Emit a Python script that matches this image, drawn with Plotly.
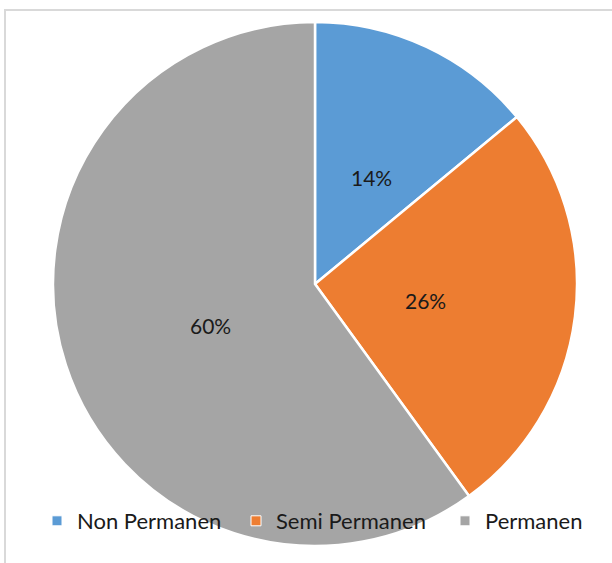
import math
import plotly.graph_objects as go

categories = ["Non Permanen", "Semi Permanen", "Permanen"]
values = [14, 26, 60]
colors = ["#5B9BD5", "#ED7D31", "#A5A5A5"]

W, H = 612, 563
T, B = 22, 17
ph = H - T - B          # 524, the pie diameter
pw = W                  # plot area spans full width
CX = 315                # pie center x in px
x0d, x1d = (CX - ph / 2) / pw, (CX + ph / 2) / pw

fig = go.Figure()
fig.add_trace(go.Pie(
    labels=categories,
    values=values,
    sort=False,
    direction="clockwise",
    rotation=0,
    domain=dict(x=[x0d, x1d], y=[0, 1]),
    marker=dict(colors=colors, line=dict(color="white", width=2.5)),
    textinfo="none",
    hoverinfo="label+percent",
    showlegend=False,
))

# legend entries (one legend per category so each can be placed like the original)
legend_text_x = [73, 272, 481]   # left edge of each legend text, px
legend_names = ["legend", "legend2", "legend3"]
legend_layout = {}
for cat, col, lx, ln in zip(categories, colors, legend_text_x, legend_names):
    fig.add_trace(go.Scatter(
        x=[None], y=[None], mode="markers", name=cat,
        marker=dict(symbol="square", size=10, color=col,
                    line=dict(color="white", width=1)),
        legend=ln, showlegend=True, hoverinfo="skip",
    ))
    legend_layout[ln] = dict(
        x=(lx - 36) / pw, xanchor="left",
        y=(H - B - 521) / ph, yanchor="middle",
        bgcolor="rgba(0,0,0,0)",
        font=dict(family="Lato", size=22, color="#1a1a1a"),
        itemwidth=30,
        orientation="h",
    )

# data labels placed at about half radius along each slice's mid-angle
total = sum(values)
annotations = []
cum = 0
for v in values:
    mid = (cum + v / 2) / total * 2 * math.pi
    cum += v
    f = 0.51
    annotations.append(dict(
        x=(CX + f * (ph / 2) * math.sin(mid)) / pw,
        y=0.5 + f * 0.5 * math.cos(mid),
        xref="paper", yref="paper",
        text=f"{round(v / total * 100)}%",
        showarrow=False,
        font=dict(family="Lato", size=21, color="#1a1a1a"),
    ))

fig.update_layout(
    width=W, height=H,
    margin=dict(l=0, r=0, t=T, b=B),
    paper_bgcolor="white",
    plot_bgcolor="rgba(0,0,0,0)",
    font=dict(family="Lato", size=22, color="#1a1a1a"),
    xaxis=dict(visible=False),
    yaxis=dict(visible=False),
    annotations=annotations,
    shapes=[dict(
        type="rect", xref="paper", yref="paper",
        x0=5 / pw, x1=1.3,
        y0=-0.2, y1=(H - B - 10) / ph,
        line=dict(color="#d9d9d9", width=2),
        fillcolor="rgba(0,0,0,0)",
        layer="below",
    )],
    **legend_layout,
)

fig.write_html(
    "out.html",
    config={"displayModeBar": False},
    post_script="document.body.style.margin='0';document.body.style.overflow='hidden';",
)
